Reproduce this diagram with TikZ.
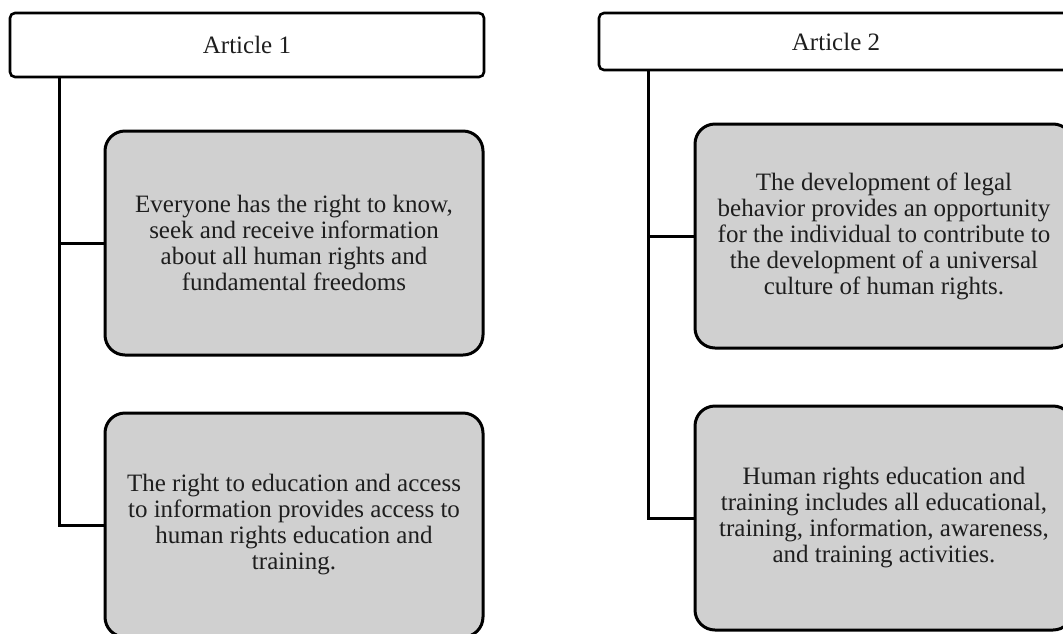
\documentclass[tikz,border=0pt]{standalone}
\usepackage{fontspec}
\setmainfont{Liberation Serif}
\definecolor{boxgray}{RGB}{208,208,208}
\definecolor{inkgray}{RGB}{30,30,30}
\begin{document}
\begin{tikzpicture}[x=1pt,y=-1pt,
  article/.style={draw=black, line width=2.6pt, rounded corners=5pt, fill=white,
    minimum width=474pt, inner sep=0pt, text=inkgray, font=\fontsize{25}{26}\selectfont},
  content/.style={draw=black, line width=3pt, rounded corners=20pt, fill=boxgray,
    minimum width=378pt, minimum height=224pt, inner sep=0pt, align=center,
    text=inkgray, font=\fontsize{25}{26}\selectfont},
  link/.style={draw=black, line width=3pt}]
\useasboundingbox (0,0) rectangle (1063,633);
\clip (0,0) rectangle (1063,633);

\node[article, minimum height=64pt] (a1) at (247,45) {Article 1};
\node[article, minimum height=57pt] (a2) at (836,41.5) {Article 2};

\node[content] (b1) at (294,243) {Everyone has the right to know,\\seek and receive information\\about all human rights and\\fundamental freedoms};
\node[content] (b2) at (294,525) {The right to education and access\\to information provides access to\\human rights education and\\training.};
\node[content] (b3) at (884,236) {The development of legal\\behavior provides an opportunity\\for the individual to contribute to\\the development of a universal\\culture of human rights.};
\node[content] (b4) at (884,518) {Human rights education and\\training includes all educational,\\training, information, awareness,\\and training activities.};

\coordinate (t1) at (59,0);
\coordinate (t2) at (648,0);

\draw[link] (a1.south -| t1) |- (b2.west);
\draw[link] (b1.west -| t1) -- (b1.west);
\draw[link] (a2.south -| t2) |- (b4.west);
\draw[link] (b3.west -| t2) -- (b3.west);
\end{tikzpicture}
\end{document}
